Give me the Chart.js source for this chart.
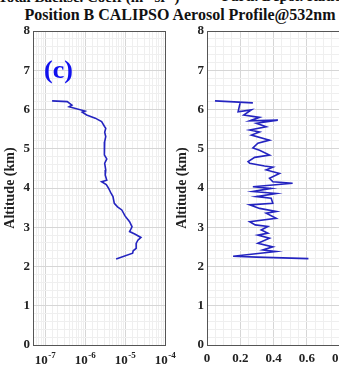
<!DOCTYPE html>
<html lang="en">
<head>
  <meta charset="UTF-8">
  <title>Position B CALIPSO Aerosol Profile@532nm</title>
  <script src="https://cdn.jsdelivr.net/npm/chart.js"></script>
  <style>
    body { margin: 0; width: 339px; height: 369px; overflow: hidden; background: #fff; position: relative; font-family: 'Liberation Serif', serif; }
    .box { position: absolute; top: 0; height: 369px; }
    .txt { position: absolute; font-weight: bold; white-space: nowrap; color: #111; }
  </style>
</head>
<body>
  <div class="txt" style="top:-12px;left:-2px;font-size:15px;">Total Backsc. Coeff (m<sup style="font-size:9px">-1</sup> sr<sup style="font-size:9px">-1</sup>)</div>
  <div class="txt" style="top:-12px;left:222px;font-size:15px;">Parti. Depol. Ratio</div>
  <div class="txt" style="top:6px;left:0;width:360px;text-align:center;font-size:16px;">Position B CALIPSO Aerosol Profile@532nm</div>

  <div class="box" style="left:0;width:185px;"><canvas id="left"></canvas></div>
  <div class="box" style="left:172px;width:188px;"><canvas id="right"></canvas></div>

  <div class="txt" style="top:55px;left:44px;font-size:26px;color:#1010ee;">(c)</div>

  <script>
    // panel (c) left: total backscatter coefficient
    var altBsc = [6.22, 6.20, 6.11, 6.07, 5.96, 5.93, 5.86, 5.78, 5.69, 5.56, 5.52, 5.42, 5.31, 5.18, 5.01,
                  4.84, 4.74, 4.63, 4.46, 4.33, 4.20, 4.16, 4.09, 3.99, 3.86, 3.78, 3.61, 3.52, 3.44, 3.29,
                  3.14, 3.01, 2.89, 2.82, 2.74, 2.67, 2.59, 2.46, 2.40, 2.34, 2.19];
    var bsc = [1.5e-7, 3.6e-7, 4.7e-7, 4.0e-7, 1.0e-6, 8.5e-7, 1.1e-6, 1.8e-6, 2.6e-6, 3.1e-6, 3.3e-6, 3.1e-6, 3.3e-6, 3.1e-6, 3.0e-6,
               3.1e-6, 3.5e-6, 3.1e-6, 3.3e-6, 3.2e-6, 3.5e-6, 2.6e-6, 3.4e-6, 3.9e-6, 4.5e-6, 5.0e-6, 5.4e-6, 6.5e-6, 8.3e-6, 1.0e-5,
               1.3e-5, 1.5e-5, 1.3e-5, 1.8e-5, 2.5e-5, 2.1e-5, 1.9e-5, 1.9e-5, 1.6e-5, 1.55e-5, 6.0e-6];

    // panel (c) right: particulate depolarization ratio (null = break in line)
    var altDep = [6.22, 6.17, null, 6.20, 5.94, 5.99, 5.86, 5.80, 5.71, 5.73, 5.65, 5.56, 5.48, 5.43, 5.35,
                  5.22, 5.14, 5.02, 4.96, 4.84, 4.78, 4.67, 4.63, 4.56, 4.53, 4.46, 4.37, 4.25, 4.16, 4.12,
                  4.03, 3.99, 3.91, 3.86, 3.78, 3.74, 3.61, 3.57, 3.48, 3.40, 3.36, 3.23, 3.14, 3.06, 3.02,
                  2.93, 2.85, 2.80, 2.72, 2.59, 2.50, 2.42, 2.38, 2.26, 2.24, 2.20];
    var depol = [0.048, 0.276, null, 0.201, 0.187, 0.267, 0.221, 0.316, 0.257, 0.426, 0.297, 0.356, 0.257, 0.316, 0.267,
                 0.376, 0.306, 0.276, 0.316, 0.376, 0.287, 0.247, 0.257, 0.346, 0.396, 0.356, 0.436, 0.376, 0.396, 0.515,
                 0.276, 0.386, 0.276, 0.416, 0.297, 0.386, 0.396, 0.257, 0.316, 0.416, 0.356, 0.416, 0.257, 0.290, 0.366,
                 0.326, 0.366, 0.306, 0.376, 0.306, 0.396, 0.336, 0.416, 0.157, 0.300, 0.610];

    var altTicks = ['0', '1', '2', '3', '4', '5', '6', '7', '8'];
    var logExps = ['-7', '-6', '-5', '-4'];
    var depTicks = ['0', '0.2', '0.4', '0.6', '0.8'];

    var lineColor = '#2424c0';
    var tickFont = { family: 'Liberation Serif', weight: 'bold', size: 13 };

    function isWhole(v, step) {
      var r = v / step;
      return Math.abs(r - Math.round(r)) < 1e-6;
    }
    function isDecade(v) {
      var e = Math.log10(v);
      return Math.abs(e - Math.round(e)) < 1e-6;
    }

    // draws the box round the plot area, as in the original figure
    var frame = {
      id: 'frame',
      afterDraw: function(chart) {
        var a = chart.chartArea, c = chart.ctx;
        c.save();
        c.strokeStyle = '#555';
        c.lineWidth = 1;
        c.strokeRect(Math.round(a.left) + 0.5, Math.round(a.top) + 0.5, Math.round(a.right - a.left), Math.round(a.bottom - a.top));
        c.restore();
      }
    };

    // 10^n labels with a raised exponent, placed at the log scale's own tick positions
    var powerLabels = {
      id: 'powerLabels',
      afterDraw: function(chart) {
        var xs = chart.scales.x, c = chart.ctx, y = xs.top + 19;
        c.save();
        c.fillStyle = '#222';
        c.textBaseline = 'alphabetic';
        logExps.forEach(function(e) {
          var px = xs.getPixelForValue(Math.pow(10, Number(e)));
          c.font = 'bold 13px "Liberation Serif"';
          var w1 = c.measureText('10').width;
          c.font = 'bold 9px "Liberation Serif"';
          var w2 = c.measureText(e).width;
          var x0 = px - (w1 + w2) / 2;
          c.font = 'bold 13px "Liberation Serif"';
          c.fillText('10', x0, y);
          c.font = 'bold 9px "Liberation Serif"';
          c.fillText(e, x0 + w1 + 0.5, y - 6);
        });
        c.restore();
      }
    };

    function yAxis(w) {
      return {
        min: 0, max: 8,
        ticks: {
          stepSize: 0.2, autoSkip: false, padding: 3, color: '#222', font: tickFont,
          callback: function(v) { return isWhole(v, 1) ? altTicks[Math.round(v)] : ''; }
        },
        grid: {
          drawTicks: false,
          color: function(ctx) { return isWhole(ctx.tick.value, 1) ? '#d6d6d6' : '#efefef'; }
        },
        border: { display: false },
        title: { display: true, text: 'Altitude (km)', color: '#222', font: { family: 'Liberation Serif', weight: 'bold', size: 14 }, padding: 2 },
        afterFit: function(s) { s.width = w; }
      };
    }

    function makePoints(xs, ys) {
      return xs.map(function(x, i) { return { x: x, y: ys[i] }; });
    }

    Chart.defaults.animation = false;

    new Chart(document.getElementById('left'), {
      type: 'line',
      data: {
        datasets: [{
          data: makePoints(bsc, altBsc),
          borderColor: lineColor, borderWidth: 1.6, pointRadius: 0, tension: 0, spanGaps: false
        }]
      },
      options: {
        responsive: true, maintainAspectRatio: false,
        layout: { padding: { top: 31, right: 20, left: 0, bottom: 0 } },
        plugins: { legend: { display: false }, tooltip: { enabled: false } },
        scales: {
          x: {
            type: 'logarithmic', min: 5e-8, max: 1e-4,
            ticks: { autoSkip: false, maxRotation: 0, callback: function() { return ''; } },
            grid: {
              drawTicks: false,
              color: function(ctx) { return isDecade(ctx.tick.value) ? '#d6d6d6' : '#efefef'; }
            },
            border: { display: false },
            afterFit: function(s) { s.height = 24; }
          },
          y: yAxis(33)
        }
      },
      plugins: [frame, powerLabels]
    });

    new Chart(document.getElementById('right'), {
      type: 'line',
      data: {
        datasets: [{
          data: makePoints(depol, altDep),
          borderColor: lineColor, borderWidth: 1.6, pointRadius: 0, tension: 0, spanGaps: false
        }]
      },
      options: {
        responsive: true, maintainAspectRatio: false,
        layout: { padding: { top: 31, right: 20, left: 0, bottom: 0 } },
        plugins: { legend: { display: false }, tooltip: { enabled: false } },
        scales: {
          x: {
            type: 'linear', min: 0, max: 0.8,
            ticks: {
              stepSize: 0.05, autoSkip: false, maxRotation: 0, padding: 6, color: '#222', font: tickFont,
              callback: function(v) { return isWhole(v, 0.2) ? depTicks[Math.round(v / 0.2)] : ''; }
            },
            grid: {
              drawTicks: false,
              color: function(ctx) { return isWhole(ctx.tick.value, 0.2) ? '#d6d6d6' : '#efefef'; }
            },
            border: { display: false },
            afterFit: function(s) { s.height = 24; }
          },
          y: yAxis(35)
        }
      },
      plugins: [frame]
    });
  </script>
</body>
</html>
